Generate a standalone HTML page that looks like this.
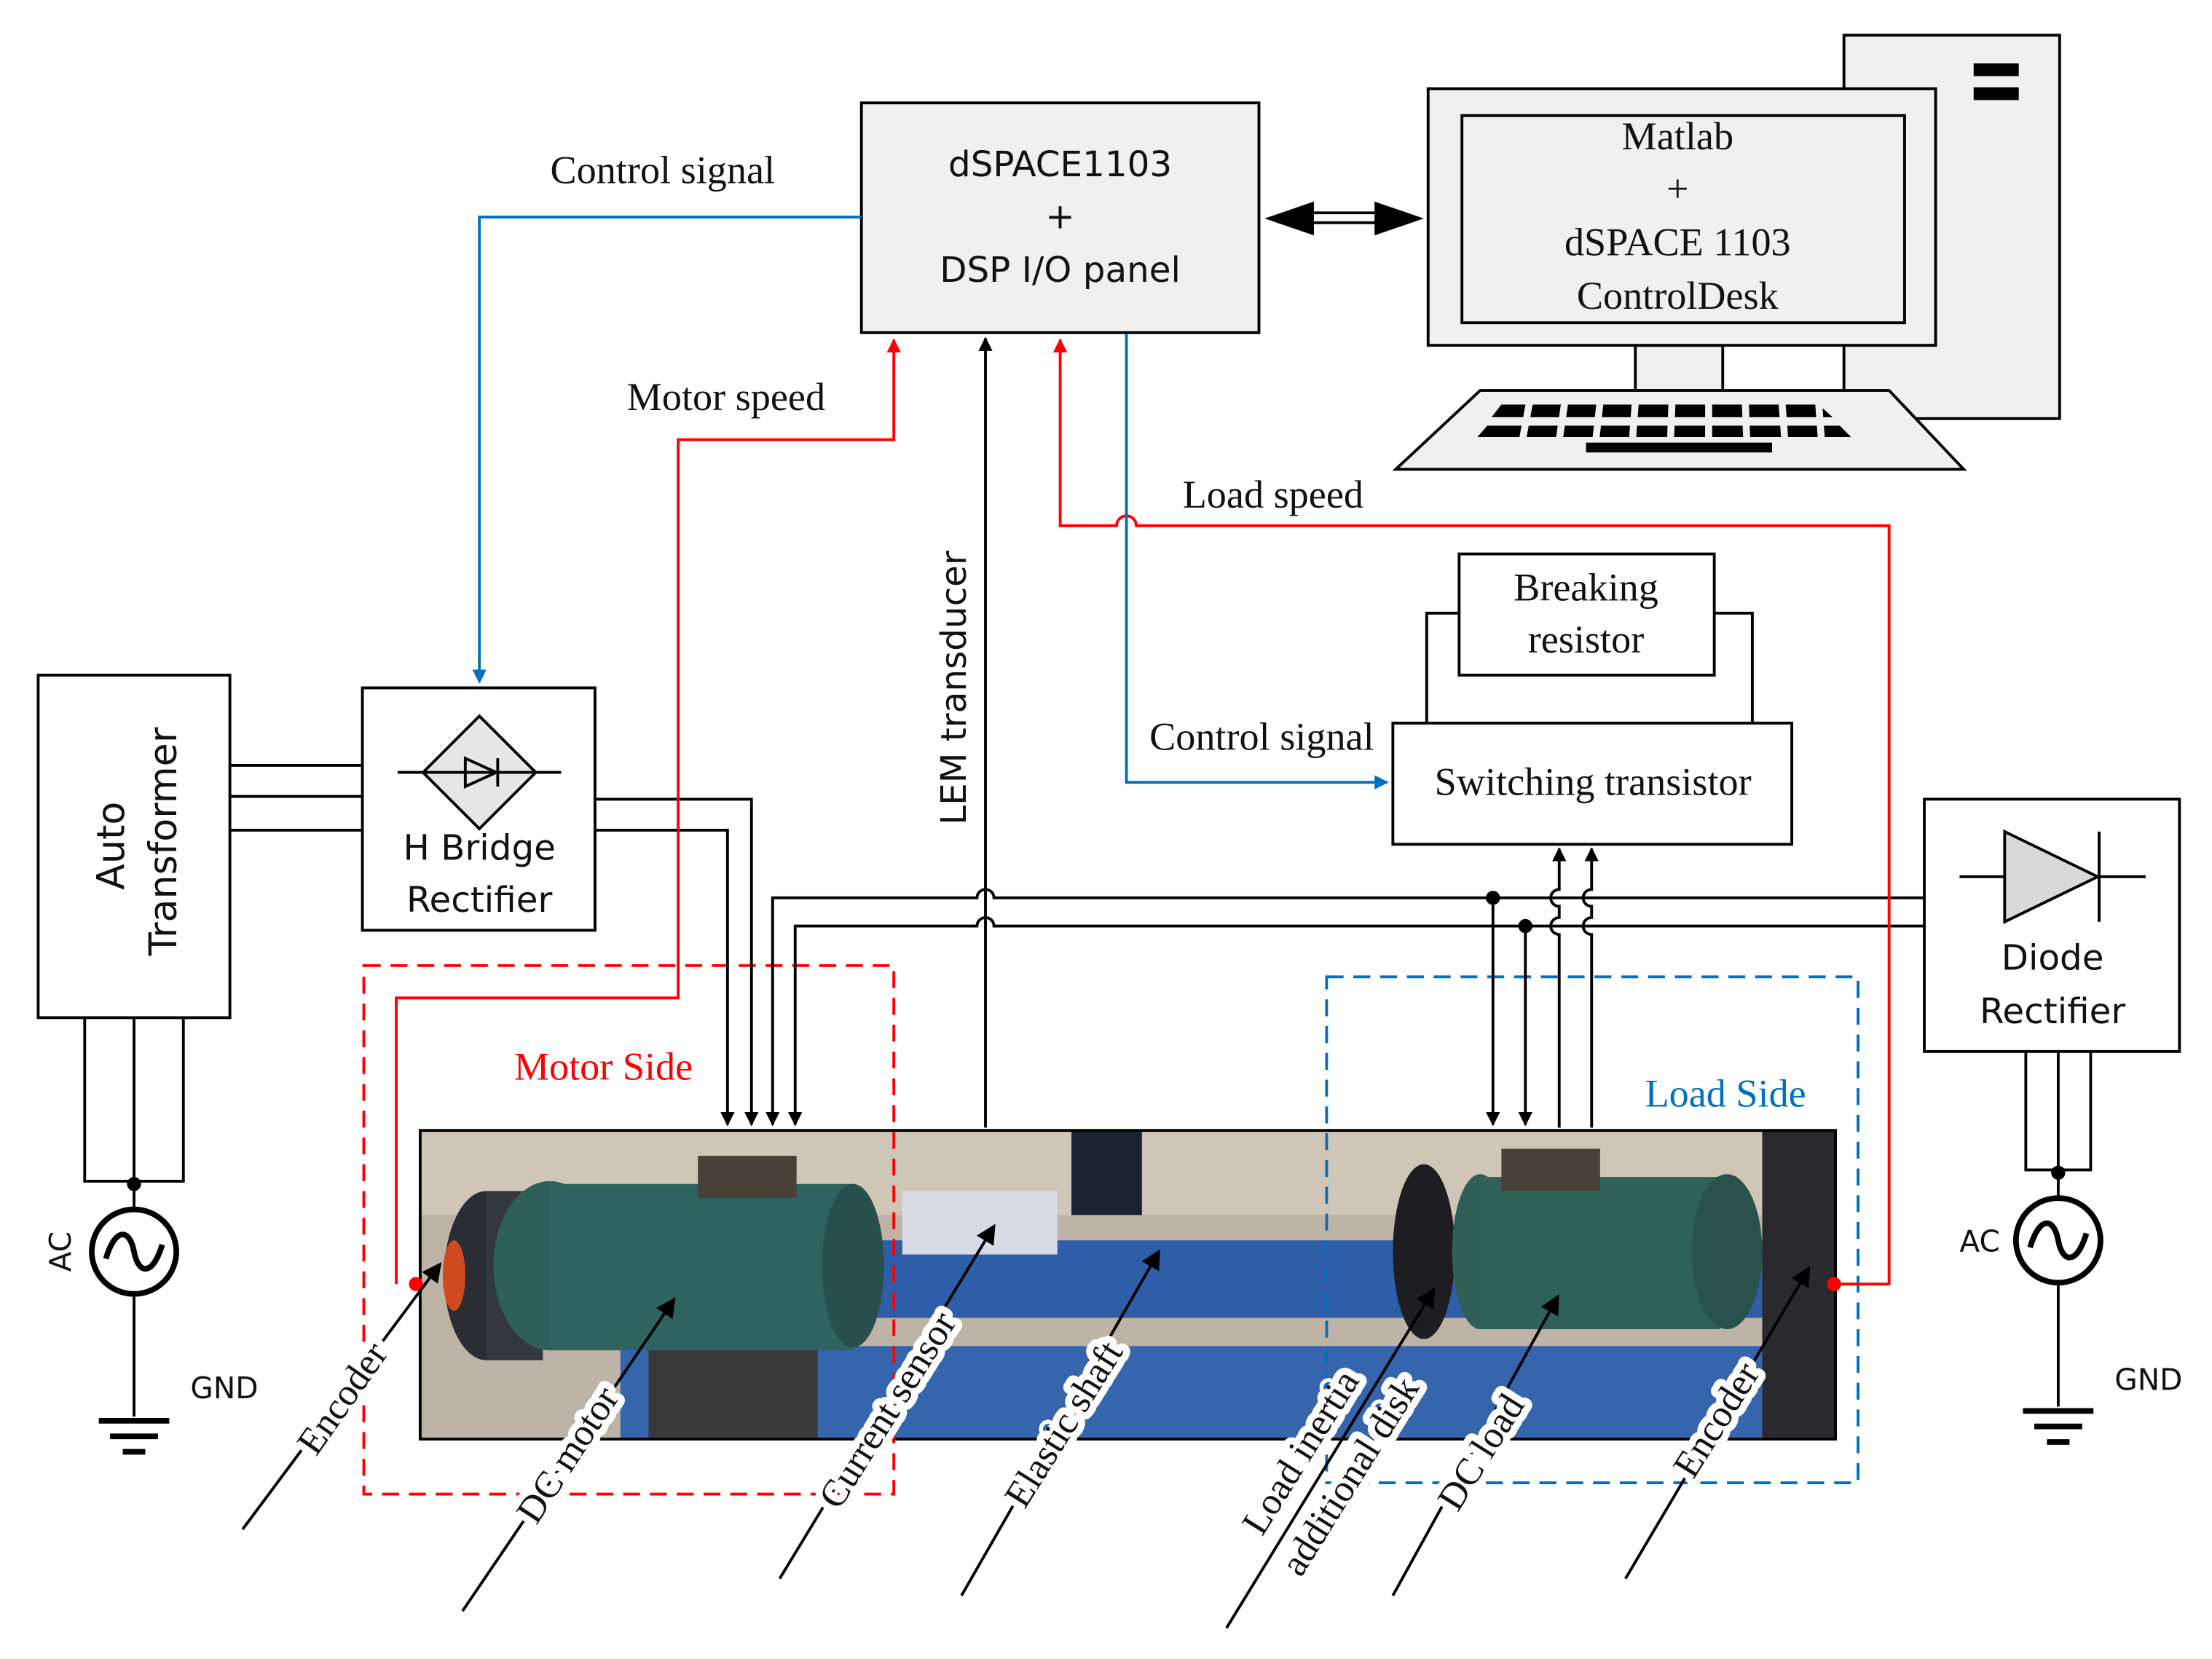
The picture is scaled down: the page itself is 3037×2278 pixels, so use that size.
<!DOCTYPE html>
<html><head><meta charset="utf-8"><style>
html,body{margin:0;padding:0;background:#fff}
svg{display:block}
text{font-family:"Liberation Serif",serif;fill:#111}
.s{font-family:"DejaVu Sans","Liberation Sans",sans-serif}
</style></head><body>
<svg width="3037" height="2278" viewBox="0 0 1569 1177" xmlns="http://www.w3.org/2000/svg">
<defs>
<marker id="ak" markerWidth="10" markerHeight="10" refX="9" refY="5" orient="auto" markerUnits="userSpaceOnUse" viewBox="0 0 10 10"><path d="M0,0 L10,5 L0,10 z" fill="#000"/></marker>
<marker id="ar" markerWidth="10" markerHeight="10" refX="9" refY="5" orient="auto" markerUnits="userSpaceOnUse" viewBox="0 0 10 10"><path d="M0,0 L10,5 L0,10 z" fill="#f00"/></marker>
<marker id="ab" markerWidth="10" markerHeight="10" refX="9" refY="5" orient="auto" markerUnits="userSpaceOnUse" viewBox="0 0 10 10"><path d="M0,0 L10,5 L0,10 z" fill="#0070c0"/></marker>
<marker id="ak2" markerWidth="14" markerHeight="14" refX="12" refY="7" orient="auto" markerUnits="userSpaceOnUse" viewBox="0 0 14 14"><path d="M0,0 L14,7 L0,14 z" fill="#000"/></marker>
</defs>

<!-- photo -->
<rect x="298" y="802" width="1004" height="219" fill="#bdb3a6"/>
<rect x="298" y="802" width="1004" height="60" fill="#cfc6b8"/>
<rect x="760" y="802" width="50" height="60" fill="#1b2333"/>
<rect x="600" y="880" width="690" height="55" fill="#2f5ea8"/>
<rect x="440" y="955" width="840" height="66" fill="#3465ad"/>
<rect x="460" y="930" width="120" height="91" fill="#3a3a3a"/>
<ellipse cx="345" cy="905" rx="30" ry="60" fill="#2a2d33"/>
<rect x="345" y="845" width="40" height="120" fill="#333840"/>
<ellipse cx="390" cy="898" rx="40" ry="60" fill="#2e5f5a"/>
<rect x="390" y="840" width="215" height="118" fill="#2f6360"/>
<ellipse cx="605" cy="898" rx="22" ry="58" fill="#27504c"/>
<rect x="495" y="820" width="70" height="30" fill="#4a4038"/>
<rect x="640" y="845" width="110" height="45" fill="#d8dbe6"/>
<ellipse cx="1010" cy="888" rx="22" ry="62" fill="#1d1d22"/>
<ellipse cx="1050" cy="888" rx="20" ry="55" fill="#2f5f55"/>
<rect x="1050" y="835" width="170" height="108" fill="#2e6258"/>
<ellipse cx="1225" cy="888" rx="25" ry="55" fill="#29524c"/>
<rect x="1065" y="815" width="70" height="30" fill="#4a4038"/>
<rect x="1250" y="802" width="52" height="219" fill="#2a2a2e"/>
<ellipse cx="322" cy="905" rx="8" ry="25" fill="#d04a20"/>
<rect x="298" y="802" width="1004" height="219" fill="none" stroke="#000" stroke-width="2"/>

<!-- dSPACE -->
<rect x="611" y="73" width="282" height="163" fill="#f0f0f0" stroke="#000" stroke-width="2"/>
<text x="752" y="125" font-size="25" text-anchor="middle" class="s">dSPACE1103</text>
<text x="752" y="162" font-size="25" text-anchor="middle" class="s">+</text>
<text x="752" y="200" font-size="25" text-anchor="middle" class="s">DSP I/O panel</text>

<!-- computer -->
<rect x="1308" y="25" width="153" height="272" fill="#f0f0f0" stroke="#000" stroke-width="2"/>
<rect x="1400" y="45" width="32" height="9" fill="#000"/><rect x="1400" y="62" width="32" height="9" fill="#000"/>
<rect x="1160" y="245" width="62" height="32" fill="#f0f0f0" stroke="#000" stroke-width="2"/>
<rect x="1013" y="63" width="360" height="182" fill="#f0f0f0" stroke="#000" stroke-width="2"/>
<rect x="1037" y="82" width="314" height="147" fill="#f0f0f0" stroke="#000" stroke-width="2"/>
<text x="1190" y="106" font-size="28" text-anchor="middle">Matlab</text>
<text x="1190" y="143" font-size="28" text-anchor="middle">+</text>
<text x="1190" y="181" font-size="28" text-anchor="middle">dSPACE 1103</text>
<text x="1190" y="219" font-size="28" text-anchor="middle">ControlDesk</text>
<polygon points="1050,277 1340,277 1393,333 990,333" fill="#f0f0f0" stroke="#000" stroke-width="2"/>
<g fill="#000">
<polygon points="1065,287 1290,287 1300,296 1058,296"/>
<polygon points="1055,302 1305,302 1313,310 1048,310"/>
<rect x="1125" y="314" width="132" height="7"/>
</g>
<g stroke="#f0f0f0" stroke-width="5">
<line x1="1085" y1="285" x2="1080" y2="312"/><line x1="1110" y1="285" x2="1106" y2="312"/><line x1="1135" y1="285" x2="1132" y2="312"/><line x1="1160" y1="285" x2="1158" y2="312"/><line x1="1186" y1="285" x2="1185" y2="312"/><line x1="1212" y1="285" x2="1212" y2="312"/><line x1="1238" y1="285" x2="1239" y2="312"/><line x1="1264" y1="285" x2="1266" y2="312"/><line x1="1290" y1="285" x2="1292" y2="312"/>
</g>
<!-- double arrow -->
<line x1="925" y1="151" x2="985" y2="151" stroke="#000" stroke-width="2"/>
<line x1="925" y1="158" x2="985" y2="158" stroke="#000" stroke-width="2"/>
<polygon points="897,155 932,143 932,167" fill="#000"/>
<polygon points="1010,155 975,143 975,167" fill="#000"/>

<!-- Control signal top -->
<text x="470" y="130" font-size="28" text-anchor="middle">Control signal</text>
<polyline points="611,154 340,154 340,484" fill="none" stroke="#0070c0" stroke-width="2" marker-end="url(#ab)"/>

<!-- Auto transformer -->
<rect x="27" y="479" width="136" height="243" fill="#fff" stroke="#000" stroke-width="2"/>
<text transform="translate(88,600) rotate(-90)" font-size="27" text-anchor="middle" class="s">Auto</text>
<text transform="translate(125,597) rotate(-90)" font-size="27" text-anchor="middle" class="s">Transformer</text>
<g stroke="#000" stroke-width="2" fill="none">
<line x1="163" y1="543" x2="257" y2="543"/><line x1="163" y1="565" x2="257" y2="565"/><line x1="163" y1="589" x2="257" y2="589"/>
<polyline points="60,722 60,838 130,838 130,722"/>
<line x1="95" y1="722" x2="95" y2="858"/>
<line x1="95" y1="918" x2="95" y2="1005"/>
<line x1="70" y1="1008" x2="120" y2="1008" stroke-width="4"/><line x1="78" y1="1019" x2="112" y2="1019" stroke-width="4"/><line x1="87" y1="1030" x2="103" y2="1030" stroke-width="4"/>
</g>
<circle cx="95" cy="840" r="5" fill="#000"/>
<circle cx="95" cy="888" r="30" fill="#fff" stroke="#000" stroke-width="4"/>
<path d="M75,893 C82,870 92,872 95,888 C98,904 108,906 115,883" fill="none" stroke="#000" stroke-width="4"/>
<text transform="translate(50,888) rotate(-90)" font-size="21" text-anchor="middle" class="s">AC</text>
<text x="135" y="992" font-size="21" class="s">GND</text>

<!-- H bridge -->
<rect x="257" y="488" width="165" height="172" fill="#fff" stroke="#000" stroke-width="2"/>
<polygon points="340,508 380,548 340,588 300,548" fill="#e6e6e6" stroke="#000" stroke-width="2"/>
<line x1="282" y1="548" x2="398" y2="548" stroke="#000" stroke-width="2"/>
<polygon points="330,538 352,548 330,558" fill="none" stroke="#000" stroke-width="2"/>
<line x1="353" y1="538" x2="353" y2="558" stroke="#000" stroke-width="2"/>
<text x="340" y="610" font-size="25" text-anchor="middle" class="s">H Bridge</text>
<text x="340" y="647" font-size="25" text-anchor="middle" class="s">Rectifier</text>

<!-- Motor side / Load side -->
<rect x="258" y="685" width="376" height="375" fill="none" stroke="#f00" stroke-width="2" stroke-dasharray="12,7"/>
<text x="428" y="766" font-size="28" text-anchor="middle" style="fill:#f00">Motor Side</text>
<rect x="941" y="693" width="377" height="359" fill="none" stroke="#0070c0" stroke-width="2" stroke-dasharray="12,7"/>
<text x="1224" y="785" font-size="28" text-anchor="middle" style="fill:#0070c0">Load Side</text>

<!-- black wires to motor -->
<g stroke="#000" stroke-width="2" fill="none">
<polyline points="422,567 533,567 533,798" marker-end="url(#ak)"/>
<polyline points="422,589 516,589 516,798" marker-end="url(#ak)"/>
<path d="M1365,637 L705,637 A6,6 0 0 0 693,637 L548,637 L548,798" marker-end="url(#ak)"/>
<path d="M1365,657 L705,657 A6,6 0 0 0 693,657 L564,657 L564,798" marker-end="url(#ak)"/>
<line x1="699" y1="800" x2="699" y2="240" marker-end="url(#ak)"/>
<line x1="1059" y1="637" x2="1059" y2="798" marker-end="url(#ak)"/>
<line x1="1082" y1="657" x2="1082" y2="798" marker-end="url(#ak)"/>
<path d="M1106,800 L1106,663 A6,6 0 0 1 1106,651 L1106,643 A6,6 0 0 1 1106,631 L1106,602" marker-end="url(#ak)"/>
<path d="M1129,800 L1129,663 A6,6 0 0 1 1129,651 L1129,643 A6,6 0 0 1 1129,631 L1129,602" marker-end="url(#ak)"/>
</g>
<circle cx="1059" cy="637" r="5" fill="#000"/>
<circle cx="1082" cy="657" r="5" fill="#000"/>
<text transform="translate(685,488) rotate(-90)" font-size="25" text-anchor="middle" class="s">LEM transducer</text>

<!-- red wires -->
<g stroke="#f00" stroke-width="2" fill="none">
<polyline points="281,911 281,708 481,708 481,312 634,312 634,241" marker-end="url(#ar)"/>
<path d="M1301,911 L1340,911 L1340,373 L806,373 A7,7 0 0 0 792,373 L752,373 L752,241" marker-end="url(#ar)"/>
</g>
<circle cx="295" cy="911" r="5" fill="#f00"/>
<circle cx="1301" cy="911" r="5" fill="#f00"/>
<text x="515" y="291" font-size="28" text-anchor="middle">Motor speed</text>
<text x="903" y="360" font-size="28" text-anchor="middle">Load speed</text>

<!-- blue control 2 -->
<polyline points="799,237 799,555 984,555" fill="none" stroke="#0070c0" stroke-width="2" marker-end="url(#ab)"/>
<text x="895" y="532" font-size="28" text-anchor="middle">Control signal</text>

<!-- breaking / switching -->
<polyline points="1012,513 1012,435 1035,435" fill="none" stroke="#000" stroke-width="2"/>
<polyline points="1243,513 1243,435 1216,435" fill="none" stroke="#000" stroke-width="2"/>
<rect x="1035" y="393" width="181" height="86" fill="#fff" stroke="#000" stroke-width="2"/>
<text x="1125" y="426" font-size="28" text-anchor="middle">Breaking</text>
<text x="1125" y="463" font-size="28" text-anchor="middle">resistor</text>
<rect x="988" y="513" width="283" height="86" fill="#fff" stroke="#000" stroke-width="2"/>
<text x="1130" y="564" font-size="28" text-anchor="middle">Switching transistor</text>

<!-- diode rectifier -->
<rect x="1365" y="567" width="181" height="179" fill="#fff" stroke="#000" stroke-width="2"/>
<line x1="1390" y1="622" x2="1522" y2="622" stroke="#000" stroke-width="2"/>
<polygon points="1422,590 1488,622 1422,654" fill="#d9d9d9" stroke="#000" stroke-width="2"/>
<line x1="1489" y1="590" x2="1489" y2="654" stroke="#000" stroke-width="2"/>
<text x="1456" y="688" font-size="25" text-anchor="middle" class="s">Diode</text>
<text x="1456" y="726" font-size="25" text-anchor="middle" class="s">Rectifier</text>
<g stroke="#000" stroke-width="2" fill="none">
<polyline points="1437,746 1437,830 1483,830 1483,746"/>
<line x1="1460" y1="746" x2="1460" y2="850"/>
<line x1="1460" y1="910" x2="1460" y2="998"/>
<line x1="1435" y1="1001" x2="1485" y2="1001" stroke-width="4"/><line x1="1443" y1="1012" x2="1477" y2="1012" stroke-width="4"/><line x1="1452" y1="1023" x2="1468" y2="1023" stroke-width="4"/>
</g>
<circle cx="1460" cy="832" r="5" fill="#000"/>
<circle cx="1460" cy="880" r="30" fill="#fff" stroke="#000" stroke-width="4"/>
<path d="M1440,885 C1447,862 1457,864 1460,880 C1463,896 1473,898 1480,875" fill="none" stroke="#000" stroke-width="4"/>
<text x="1390" y="888" font-size="21" class="s">AC</text>
<text x="1500" y="986" font-size="21" class="s">GND</text>

<!-- pointer labels -->
<g stroke="#000" stroke-width="2" fill="none">
<line x1="172" y1="1085" x2="312" y2="897" marker-end="url(#ak2)"/>
<line x1="328" y1="1143" x2="478" y2="922" marker-end="url(#ak2)"/>
<line x1="553" y1="1120" x2="705" y2="870" marker-end="url(#ak2)"/>
<line x1="682" y1="1132" x2="822" y2="888" marker-end="url(#ak2)"/>
<line x1="870" y1="1155" x2="1017" y2="915" marker-end="url(#ak2)"/>
<line x1="988" y1="1132" x2="1105" y2="920" marker-end="url(#ak2)"/>
<line x1="1153" y1="1120" x2="1283" y2="900" marker-end="url(#ak2)"/>
</g>
<g font-size="27" text-anchor="middle" stroke="#fff" stroke-width="10" paint-order="stroke" stroke-linejoin="round">
<text transform="translate(250,997) rotate(-55)">Encoder</text>
<text transform="translate(410,1037) rotate(-57)">DC motor</text>
<text transform="translate(637,1005) rotate(-58)">Current sensor</text>
<text transform="translate(762,1015) rotate(-58)">Elastic shaft</text>
<text transform="translate(930,1035) rotate(-58)">Load inertia</text>
<text transform="translate(965,1052) rotate(-58)">additional disk</text>
<text transform="translate(1058,1035) rotate(-58)">DC load</text>
<text transform="translate(1225,1012) rotate(-58)">Encoder</text>
</g>
</svg>
</body></html>
